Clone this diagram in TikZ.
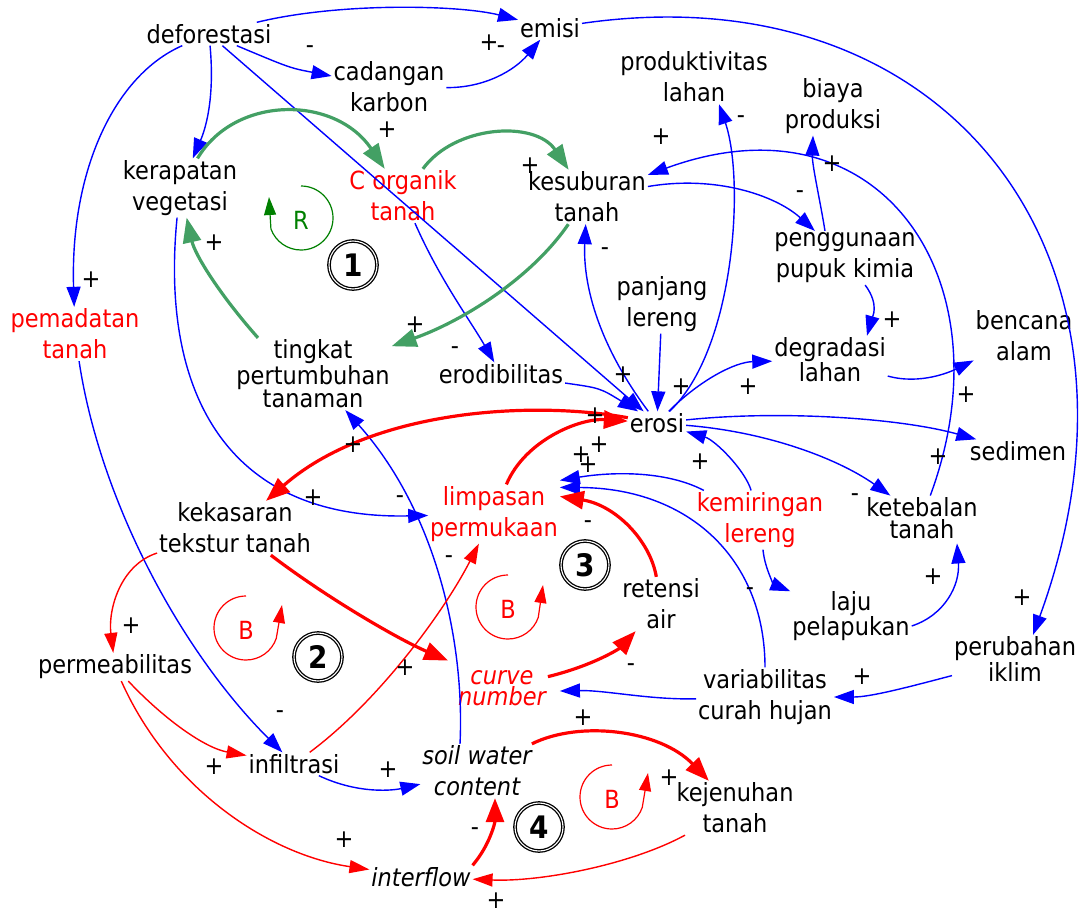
\documentclass[tikz,border=0pt]{standalone}
\usepackage{fontspec}
\setmainfont{DejaVu Sans}[FakeStretch=0.9]
\usetikzlibrary{arrows.meta}
\definecolor{cblue}{RGB}{0,0,255}
\definecolor{cred}{RGB}{255,0,0}
\definecolor{cgreen}{RGB}{67,160,100}
\definecolor{cdgreen}{RGB}{0,128,0}
\begin{document}
\begin{tikzpicture}[x=1pt,y=-1pt,
  every node/.style={inner sep=2pt, outer sep=0pt},
  v/.style={align=center, font=\fontsize{25}{31}\selectfont},
  vt/.style={align=center, font=\fontsize{25}{21.5}\selectfont},
  vm/.style={align=center, font=\fontsize{25}{23.5}\selectfont},
  vi/.style={align=center, font=\fontsize{25}{31}\selectfont\itshape},
  vti/.style={align=center, font=\fontsize{25}{20.5}\selectfont\itshape},
  pol/.style={font=\fontsize{25}{25}\selectfont, inner sep=0pt},
  numc/.style={circle, draw, double, line width=1.3pt, double distance=1.1pt, minimum size=48pt, inner sep=0pt, font=\fontsize{31}{31}\selectfont\bfseries},
  bl/.style={draw=cblue, line width=1.4pt, -{Triangle[length=20pt,width=14pt]}},
  rt/.style={draw=cred, line width=1.4pt, -{Triangle[length=20pt,width=13pt]}},
  rk/.style={draw=cred, line width=3.2pt, -{Triangle[length=24pt,width=18pt]}},
  gk/.style={draw=cgreen, line width=3.2pt, -{Triangle[length=25pt,width=18pt]}},
  loopB/.style={draw=cred, line width=1.2pt, -{Triangle[length=18pt,width=12pt]}},
  loopR/.style={draw=cdgreen, line width=1.2pt, -{Triangle[length=18pt,width=12pt]}},
]
\useasboundingbox (0,0) rectangle (1079,913);

% nodes
\node[v] (defo) at (209,34) {deforestasi};
\node[v] (emisi) at (550,28) {emisi};
\node[v] (cad) at (389,87) {cadangan\\karbon};
\node[v] (prod) at (694,77) {produktivitas\\lahan};
\node[v] (biaya) at (833,106) {biaya\\produksi};
\node[v] (kerap) at (180,188) {kerapatan\\vegetasi};
\node[v, text=cred] (corg) at (403,196) {C organik\\tanah};
\node[v] (kesub) at (587,197) {kesuburan\\tanah};
\node[v] (pupuk) at (845,258) {penggunaan\\pupuk kimia};
\node[v] (panj) at (662,304) {panjang\\lereng};
\node[v, text=cred] (pemad) at (75,334) {pemadatan\\tanah};
\node[vt] (tingkat) at (313,374) {tingkat\\pertumbuhan\\tanaman};
\node[v] (erod) at (501,374) {erodibilitas};
\node[vt] (degr) at (830,360) {degradasi\\lahan};
\node[v] (benc) at (1024,336) {bencana\\alam};
\node[v] (erosi) at (657,423) {erosi};
\node[v] (sedimen) at (1018,451) {sedimen};
\node[v] (kekas) at (235,528) {kekasaran\\tekstur tanah};
\node[v, text=cred] (limp) at (494,514) {limpasan\\permukaan};
\node[v, text=cred] (kemir) at (760,520) {kemiringan\\lereng};
\node[vt] (keteb) at (922,518) {ketebalan\\tanah};
\node[v] (ret) at (661,604) {retensi\\air};
\node[vm] (laju) at (851,616) {laju\\pelapukan};
\node[vm] (perub) at (1015,659) {perubahan\\iklim};
\node[v] (perm) at (115,667) {permeabilitas};
\node[vti, text=cred] (cn) at (502,688) {curve\\number};
\node[v] (var) at (765,697) {variabilitas\\curah hujan};
\node[v] (infil) at (294,764) {infiltrasi};
\node[vi] (swc) at (477,771) {soil water\\content};
\node[v] (kejen) at (735,808) {kejenuhan\\tanah};
\node[vi] (interflow) at (421,877) {interflow};

% numbered circles
\node[numc] (n1) at (353,265) {1};
\node[numc] (n2) at (318,657) {2};
\node[numc] (n3) at (585,565) {3};
\node[numc] (n4) at (539,827) {4};

% loop markers
\draw[loopR] (301,186) arc[start angle=-90, end angle=160, radius=32] -- (269,197);
\node[v, text=cdgreen] (lR) at (301,220) {R};
\draw[loopB] (246,596) arc[start angle=-90, end angle=-341, radius=32] -- (282,605);
\node[v, text=cred] (lB2) at (246,630) {B};
\draw[loopB] (508,575) arc[start angle=-90, end angle=-341, radius=32] -- (543,585);
\node[v, text=cred] (lB3) at (508,609) {B};
\draw[loopB] (612,765) arc[start angle=-90, end angle=-341, radius=32] -- (648,773);
\node[v, text=cred] (lB4) at (612,799) {B};

% blue links
\draw[bl] (defo) .. controls (340,2) and (460,5) .. (emisi);
\draw[bl] (defo) .. controls (290,68) .. (cad);
\draw[bl] (cad) .. controls (485,88) and (515,70) .. (emisi);
\draw[bl] (defo) .. controls (215,100) and (205,130) .. (kerap);
\draw[bl] (defo) .. controls (115,75) and (70,170) .. (pemad);
\draw[bl] (defo) -- (erosi);
\draw[bl] (erod) .. controls (600,388) .. (erosi);
\draw[bl] (corg) .. controls (440,280) and (470,320) .. (erod);
\draw[bl] (erosi) .. controls (595,340) and (583,280) .. (kesub);
\draw[bl] (panj) -- (erosi);
\draw[bl] (erosi) .. controls (735,350) and (745,180) .. ([xshift=25pt]prod.south);
\draw[bl] (erosi) .. controls (700,380) and (735,362) .. (degr);
\draw[bl] (kesub) .. controls (715,175) and (775,195) .. (pupuk);
\draw[bl] ([xshift=-20pt]pupuk.north) .. controls (820,200) and (812,165) .. ([xshift=-20pt]biaya.south);
\draw[bl] (keteb) .. controls (1010,280) and (880,90) .. (kesub);
\draw[bl] (degr) .. controls (920,385) and (950,372) .. (benc);
\draw[bl] (pupuk) .. controls (880,305) and (872,318) .. ([xshift=37pt]degr.north);
\draw[bl] (erosi) .. controls (780,410) and (900,418) .. (sedimen);
\draw[bl] (erosi) .. controls (770,432) and (840,460) .. (keteb);
\draw[bl] (emisi) .. controls (950,-30) and (1170,260) .. ([xshift=18pt]perub.north);
\draw[bl] (perub) .. controls (905,688) and (870,697) .. (var);
\draw[bl] (var) .. controls (650,700) and (605,690) .. ([xshift=12pt,yshift=-3pt]cn.east);
\draw[bl] (var) .. controls (765,560) and (690,488) .. ([yshift=-3pt]limp.north east);
\draw[bl] (kemir) .. controls (665,470) and (610,472) .. ([yshift=4pt]limp.north east);
\draw[bl] (kemir) .. controls (745,470) and (715,440) .. (erosi);
\draw[bl] (kemir) .. controls (765,570) and (775,585) .. (laju);
\draw[bl] ([yshift=-10pt]laju.east) .. controls (945,615) and (960,585) .. ([xshift=35pt,yshift=-3pt]keteb.south);
\draw[bl] (pemad) .. controls (100,500) and (180,650) .. (infil);
\draw[bl] (infil) .. controls (360,795) and (395,790) .. (swc);
\draw[bl] ([xshift=-17pt]swc.north) .. controls (465,640) and (435,510) .. (tingkat);
\draw[bl] (kerap) .. controls (160,390) and (225,520) .. (limp);

% red thin links
\draw[rt] (kekas) .. controls (120,565) and (108,610) .. (perm);
\draw[rt] (perm) .. controls (165,720) and (205,748) .. (infil);
\draw[rt] (perm) .. controls (170,790) and (270,855) .. (interflow);
\draw[rt] (infil) .. controls (380,700) and (445,610) .. (limp);
\draw[rt] (kejen) .. controls (630,865) and (540,882) .. (interflow);

% red thick links
\draw[rk] (erosi) .. controls (530,400) and (370,410) .. (kekas);
\draw[rk] (limp) .. controls (525,440) and (580,418) .. (erosi);
\draw[rk] (kekas) .. controls (330,600) and (400,640) .. ([xshift=-8pt,yshift=8pt]cn.north west);
\draw[rk] (ret) .. controls (650,540) and (615,505) .. ([yshift=-12pt]limp.north east);
\draw[rk] (cn) .. controls (595,665) and (620,648) .. (ret);
\draw[rk] (swc) .. controls (580,720) and (660,730) .. (kejen);
\draw[rk] (interflow.north east) .. controls (490,845) and (495,822) .. ([xshift=18pt]swc.south);

% green links
\draw[gk] (kerap) .. controls (235,95) and (335,95) .. (corg);
\draw[gk] (corg) .. controls (455,125) and (535,120) .. (kesub);
\draw[gk] (kesub) .. controls (530,280) and (460,322) .. (tingkat);
\draw[gk] ([xshift=-55pt]tingkat.north) .. controls (220,295) and (195,255) .. (kerap);

% polarity labels
\foreach \n/\x/\y/\s in {1/310/50/-, 2/489/43/+, 3/501/50/-, 4/387/130/+, 5/91/280/+,
  6/214/243/+, 7/530/166/+, 8/661/137/+, 9/741/120/-, 10/832/164/+, 11/800/195/-,
  12/605/252/-, 13/415/325/+, 14/455/351/-, 15/353/445/+, 16/313/498/+, 17/400/500/-,
  18/449/560/-, 19/623/375/+, 20/681/387/+, 21/748/387/+, 22/892/320/+, 23/966/395/+,
  24/938/457/+, 25/855/498/-, 26/700/462/+, 27/599/445/+, 28/581/455/+, 29/588/465/+,
  30/595/416/+, 31/588/525/-, 32/750/592/-, 33/933/577/+, 34/1022/598/+, 35/131/626/+,
  36/280/715/-, 37/214/767/+, 38/344/840/+, 39/388/770/+, 40/405/668/+, 41/475/832/-,
  42/496/901/+, 43/631/668/-, 44/583/718/+, 45/862/677/+, 46/669/778/+}
  \node[pol] (p\n) at (\x,\y) {\s};
\end{tikzpicture}
\end{document}
